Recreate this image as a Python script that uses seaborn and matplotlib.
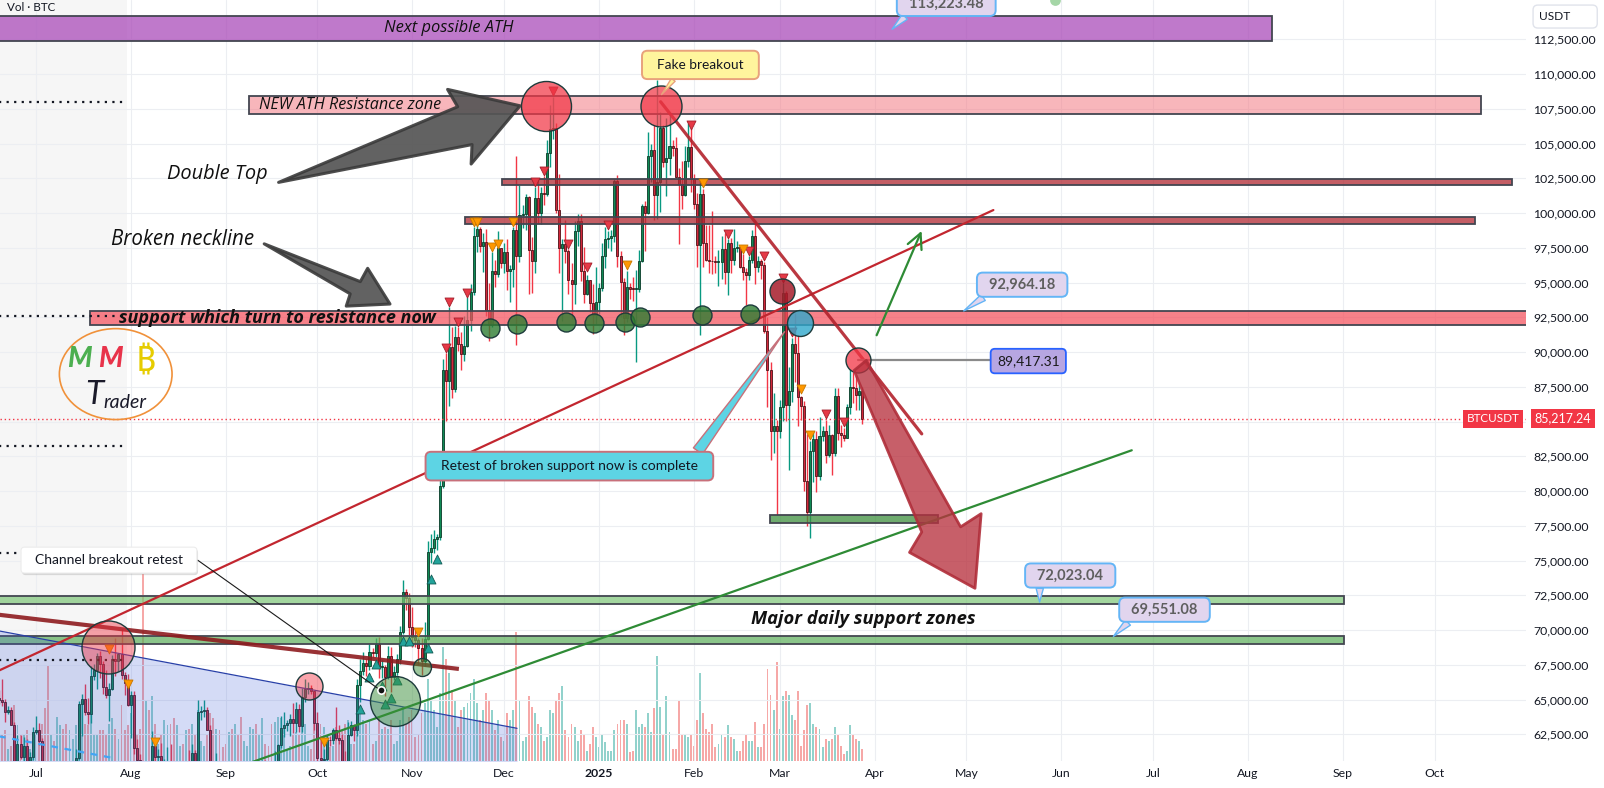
import numpy as np
import pandas as pd
import matplotlib
matplotlib.use("Agg")
import matplotlib.pyplot as plt
import matplotlib.dates as mdates
import matplotlib.patheffects as pe
from matplotlib.colors import to_rgba
from matplotlib.patches import Polygon, Ellipse, Rectangle
from matplotlib.transforms import blended_transform_factory
import seaborn as sns

# ------------------------------------------------------------------
# BTCUSDT daily candles from 2024-06-19 (prices in thousands of USDT,
# volume in thousands of BTC)
# ------------------------------------------------------------------
FIRST_DAY = "2024-06-19"
FIRST_OPEN = 65.15

close_jun = [64.96, 64.83, 64.10, 64.26, 63.18, 60.28, 61.80, 60.86, 61.68, 60.32, 60.89, 62.68]
high_jun = [65.73, 66.48, 65.07, 64.52, 64.48, 63.37, 62.43, 62.48, 62.29, 62.20, 61.20, 63.00]
low_jun = [64.69, 64.55, 63.38, 63.94, 63.18, 58.40, 60.24, 60.71, 60.58, 60.00, 60.32, 60.68]
vol_jun = [13, 16, 18, 7, 9, 33, 21, 15, 16, 18, 7, 10]

close_jul = [62.85, 62.03, 60.20, 57.06, 56.66, 58.24, 55.86, 56.70, 58.05, 57.72,
             57.34, 57.89, 59.20, 60.80, 64.70, 65.04, 64.09, 63.97, 66.68, 67.15,
             68.16, 67.53, 65.93, 65.37, 65.78, 67.90, 67.80, 68.25, 66.78, 66.19, 64.62]
high_jul = [63.86, 63.29, 62.27, 60.50, 57.55, 58.47, 58.32, 58.24, 58.30, 59.47,
            59.36, 58.53, 59.85, 61.42, 64.90, 65.39, 66.13, 65.12, 67.44, 67.60,
            68.37, 68.47, 67.80, 67.10, 66.17, 68.23, 69.40, 68.32, 70.08, 66.99, 66.83]
low_jul = [62.50, 61.76, 59.42, 56.77, 53.49, 56.01, 55.72, 54.26, 56.30, 57.16,
           57.05, 56.57, 57.76, 59.08, 60.63, 62.40, 63.87, 63.22, 63.30, 66.42,
           65.75, 66.57, 65.44, 65.11, 63.46, 65.72, 66.67, 67.07, 66.48, 65.30, 64.53]
vol_jul = [15, 13, 22, 31, 56, 16, 12, 26, 21, 19, 22, 18, 13, 21, 31, 33, 22, 21, 30, 15,
           16, 18, 18, 16, 22, 25, 19, 13, 33, 18, 21]

close_aug = [65.35, 61.50, 60.68, 58.12, 54.02, 56.04, 55.13, 61.70, 60.88, 60.94,
             58.71, 59.35, 60.60, 58.74, 57.56, 58.87, 59.48, 58.45, 59.49, 59.01,
             61.16, 60.38, 64.10, 64.18, 64.25, 62.83, 59.42, 59.03, 59.37, 59.12, 58.97]
high_aug = [65.59, 65.60, 62.20, 61.12, 58.29, 57.04, 57.73, 62.75, 61.76, 61.47,
            61.86, 60.70, 61.57, 61.80, 59.85, 59.82, 59.69, 60.28, 59.62, 61.40,
            61.83, 61.41, 64.96, 64.52, 65.00, 64.48, 63.20, 60.23, 61.19, 59.90, 59.46]
low_aug = [62.25, 61.10, 59.85, 57.12, 49.00, 53.97, 54.56, 54.73, 59.58, 60.26,
           58.29, 57.64, 58.42, 58.43, 56.08, 57.10, 58.79, 58.41, 57.86, 58.60,
           58.78, 59.77, 60.34, 63.55, 63.77, 62.80, 58.03, 57.86, 58.76, 57.70, 58.76]
vol_aug = [28, 27, 16, 19, 110, 36, 30, 38, 22, 10, 15, 24, 21, 22, 25, 21, 9, 10, 18, 19,
           22, 16, 30, 12, 9, 16, 28, 25, 19, 18, 8]

close_sep = [57.30, 59.13, 57.49, 57.97, 56.16, 53.96, 54.16, 54.87, 57.04, 57.65,
             57.34, 58.13, 60.57, 60.00, 59.18, 58.21, 60.31, 61.76, 62.95, 63.20,
             63.35, 63.58, 63.33, 64.30, 63.14, 65.18, 65.77, 65.86, 65.60, 63.30]
high_sep = [59.06, 59.43, 59.81, 58.52, 58.33, 56.98, 54.85, 55.30, 58.10, 58.04,
            57.99, 58.59, 60.67, 60.66, 60.39, 59.21, 61.32, 61.79, 63.85, 64.13,
            63.56, 64.00, 64.75, 64.82, 64.70, 65.84, 66.50, 66.26, 66.08, 65.62]
low_sep = [57.20, 57.13, 57.42, 55.61, 55.68, 52.55, 53.74, 53.65, 54.59, 56.39,
           55.55, 57.33, 57.63, 59.50, 58.70, 57.49, 57.61, 59.17, 61.55, 62.35,
           62.76, 62.36, 62.61, 62.70, 62.67, 62.67, 64.82, 65.42, 65.43, 62.85]
vol_sep = [10, 17, 19, 22, 16, 26, 12, 9, 20, 19, 22, 16, 25, 10, 9, 22, 23, 26, 25, 19,
           7, 9, 16, 17, 16, 20, 22, 9, 7, 22]

close_oct = [60.80, 60.65, 60.75, 62.09, 62.07, 62.81, 62.22, 62.13, 60.58, 60.27,
             62.45, 63.19, 62.85, 66.05, 67.04, 67.61, 67.40, 68.40, 68.36, 69.00,
             67.37, 67.38, 66.65, 68.16, 66.64, 67.01, 67.93, 69.90, 72.72, 72.34, 70.22]
high_oct = [64.13, 62.38, 61.47, 62.48, 62.37, 62.99, 64.48, 63.20, 62.54, 61.32,
            63.42, 63.48, 63.28, 66.50, 67.95, 68.42, 67.94, 68.97, 68.69, 69.40,
            69.50, 67.84, 67.46, 68.85, 68.77, 67.45, 68.31, 70.27, 73.62, 72.96, 72.70]
low_oct = [60.17, 59.99, 59.83, 60.46, 61.68, 61.83, 62.13, 61.84, 60.30, 58.90,
           60.08, 62.42, 62.03, 62.42, 64.80, 66.75, 66.67, 67.12, 68.08, 68.09,
           66.58, 66.57, 65.26, 66.50, 65.53, 66.45, 66.80, 67.56, 69.73, 71.44, 69.68]
vol_oct = [26, 22, 20, 16, 8, 9, 20, 17, 18, 22, 24, 10, 10, 28, 30, 24, 22, 24, 10, 12,
           26, 19, 20, 19, 24, 10, 12, 24, 32, 22, 26]

close_nov = [69.50, 69.30, 68.74, 67.80, 69.36, 75.64, 75.90, 76.54, 76.70, 80.37,
             88.70, 87.95, 90.38, 87.32, 91.06, 90.58, 89.85, 90.46, 92.31, 94.29,
             98.32, 98.89, 97.67, 97.90, 93.01, 91.97, 95.86, 95.64, 97.46, 96.41]
high_nov = [71.63, 70.00, 69.40, 69.45, 70.58, 76.40, 76.95, 77.20, 76.92, 81.50,
            89.53, 89.96, 93.27, 91.79, 91.85, 91.80, 91.45, 92.59, 94.00, 94.90,
            98.97, 99.59, 98.97, 98.55, 98.87, 94.97, 97.21, 96.65, 98.69, 97.50]
low_nov = [68.78, 68.80, 67.46, 66.80, 67.45, 69.30, 74.80, 75.56, 75.75, 76.49,
           80.22, 85.07, 86.13, 86.67, 87.10, 90.09, 88.72, 89.38, 90.37, 91.50,
           94.08, 97.17, 97.23, 95.73, 92.60, 90.79, 91.81, 94.72, 95.38, 96.05]
vol_nov = [30, 14, 16, 28, 34, 48, 36, 30, 20, 40, 67, 60, 52, 42, 36, 20, 30, 32, 34, 40,
           48, 34, 24, 30, 40, 36, 30, 18, 24, 14]

close_dec = [97.20, 95.84, 96.00, 98.77, 96.95, 99.87, 99.92, 101.17, 97.37, 96.59,
             101.12, 100.00, 101.42, 101.40, 104.30, 106.06, 106.14, 100.20, 97.46, 97.76,
             97.29, 95.19, 94.88, 98.68, 99.40, 95.80, 94.16, 95.16, 93.53, 92.64, 93.58]
high_dec = [97.84, 98.15, 96.30, 99.00, 104.09, 102.04, 100.55, 101.40, 101.20, 98.27,
            101.89, 102.54, 101.90, 102.65, 105.25, 107.79, 108.35, 106.47, 102.80, 98.14,
            99.54, 97.45, 96.42, 99.42, 99.96, 99.96, 97.54, 95.53, 95.18, 94.90, 96.15]
low_dec = [95.69, 94.50, 93.58, 94.66, 90.50, 96.50, 98.93, 98.77, 94.15, 94.26,
           95.66, 99.31, 99.21, 100.61, 101.23, 103.33, 105.32, 100.00, 95.70, 92.23,
           96.40, 94.20, 92.40, 93.45, 97.60, 95.14, 93.50, 94.12, 92.88, 91.32, 92.00]
vol_dec = [12, 28, 24, 30, 76, 36, 12, 14, 38, 32, 28, 22, 20, 12, 14, 30, 28, 36, 40, 44,
           18, 14, 22, 20, 12, 18, 16, 6, 10, 20, 14]

close_jan = [94.59, 96.89, 98.11, 98.24, 98.35, 102.28, 96.95, 95.04, 92.48, 94.70,
             94.57, 94.52, 94.54, 96.53, 100.50, 99.99, 104.08, 104.56, 101.33, 102.26,
             106.14, 103.65, 103.96, 104.82, 104.71, 102.57, 102.08, 101.33, 103.73, 104.73, 102.43]
high_jan = [95.00, 97.84, 98.98, 98.73, 98.81, 102.48, 102.72, 97.26, 95.35, 95.84,
            95.00, 95.40, 95.90, 97.37, 100.68, 100.87, 105.87, 104.99, 106.32, 109.59,
            107.24, 106.33, 106.85, 107.12, 105.29, 105.50, 103.22, 103.78, 104.80, 106.46, 106.09]
low_jan = [92.74, 94.40, 96.02, 97.51, 97.25, 97.90, 96.13, 92.50, 91.20, 92.20,
           93.80, 93.71, 89.26, 94.31, 96.48, 97.27, 99.95, 102.27, 99.50, 99.55,
           100.10, 103.33, 101.21, 102.75, 104.10, 102.52, 97.78, 100.27, 101.26, 103.30, 101.54]
vol_jan = [8, 16, 11, 6, 6, 18, 22, 24, 24, 22, 5, 6, 30, 20, 22, 20, 28, 17, 31, 62,
           32, 16, 38, 17, 7, 7, 35, 16, 16, 14, 16]

close_feb = [100.64, 97.69, 101.40, 97.87, 96.61, 96.55, 96.53, 96.48, 96.51, 97.43,
             95.78, 97.87, 96.62, 97.51, 97.57, 96.12, 95.77, 95.54, 96.64, 98.33,
             96.15, 96.58, 96.27, 91.55, 88.74, 84.35, 84.70, 84.35]
high_feb = [102.78, 101.46, 102.50, 101.73, 99.17, 99.12, 100.14, 96.88, 97.32, 98.35,
            98.56, 98.12, 98.20, 98.83, 97.97, 97.73, 97.05, 96.02, 96.90, 98.76,
            99.50, 96.94, 96.67, 96.50, 92.54, 89.29, 87.08, 85.12]
low_feb = [100.28, 96.15, 91.23, 96.15, 96.59, 95.68, 95.62, 95.69, 94.75, 95.26,
           94.87, 94.09, 95.66, 96.25, 97.23, 96.05, 95.21, 93.39, 95.16, 96.40,
           94.87, 95.77, 95.27, 91.35, 86.05, 82.26, 82.72, 78.26]
vol_feb = [9, 24, 52, 28, 19, 17, 22, 8, 10, 15, 14, 21, 14, 13, 6, 6, 12, 16, 12, 12,
           23, 8, 8, 22, 54, 39, 30, 58]

close_mar = [86.06, 94.27, 86.22, 87.22, 90.62, 89.96, 86.74, 86.15, 80.73, 78.53,
             82.86, 83.72, 81.07, 83.97, 84.34, 82.58, 84.03, 82.72, 86.85, 84.17,
             84.04, 83.83, 86.08, 87.50, 87.39, 86.90, 87.23, 85.21724]
high_mar = [86.56, 95.00, 94.42, 88.91, 90.99, 92.81, 91.22, 86.85, 86.47, 84.12,
            83.62, 84.36, 84.30, 85.31, 84.67, 85.12, 84.73, 84.08, 87.45, 87.44,
            84.78, 84.57, 86.25, 88.76, 88.54, 88.29, 87.79, 87.52]
low_mar = [83.82, 85.05, 85.08, 81.53, 86.38, 87.85, 84.67, 85.12, 80.00, 77.46,
           76.61, 80.66, 79.94, 80.80, 83.64, 82.02, 82.46, 81.13, 82.55, 83.65,
           83.17, 83.63, 83.80, 85.55, 86.31, 85.86, 85.84, 84.80]
vol_mar = [19, 38, 41, 39, 27, 24, 41, 9, 18, 33, 34, 22, 20, 19, 8, 13, 12, 13, 20, 16,
           9, 4, 6, 21, 16, 13, 12, 7]

# Indicator signal markers: (date, price in k)
SIG_RED = [("2024-11-12", 90.33), ("2024-11-13", 93.61), ("2024-11-16", 92.18),
           ("2024-11-19", 94.28), ("2024-12-11", 102.24), ("2024-12-14", 103.03),
           ("2024-12-17", 108.78), ("2024-12-22", 97.80), ("2024-12-28", 96.12),
           ("2025-01-04", 99.12), ("2025-01-31", 106.36), ("2025-02-12", 98.53),
           ("2025-02-19", 97.28), ("2025-02-24", 96.90), ("2025-03-02", 95.36),
           ("2025-03-05", 91.46), ("2025-03-16", 85.54), ("2025-03-22", 84.94)]
SIG_ORANGE = [("2024-07-25", 68.63), ("2024-07-31", 66.13), ("2024-08-09", 61.93),
              ("2024-10-03", 61.93), ("2024-11-03", 69.85), ("2024-11-21", 99.36),
              ("2024-11-22", 99.36), ("2024-11-27", 97.57), ("2024-11-29", 97.80),
              ("2024-12-04", 99.36), ("2025-01-10", 96.24), ("2025-02-04", 102.16),
              ("2025-02-17", 97.45), ("2025-03-08", 87.33), ("2025-03-11", 84.03)]
SIG_TEAL = [("2024-10-15", 64.31), ("2024-10-18", 66.65), ("2024-10-20", 67.60),
            ("2024-10-22", 66.00), ("2024-10-23", 64.70), ("2024-10-25", 65.10),
            ("2024-10-27", 66.40), ("2024-10-29", 69.20), ("2024-10-31", 69.20),
            ("2024-11-06", 68.75), ("2024-11-07", 73.70), ("2024-11-09", 75.10)]

# Key levels quoted on the chart
LVL_NEXT_ATH = 113223.48
LVL_RESIST = 92964.18
LVL_RETEST = 89417.31
LVL_SUPPORT_A = 72023.04
LVL_SUPPORT_B = 69551.08

PRICE_TICKS = np.arange(62500, 112501, 2500)
MONTH_TICKS = pd.date_range("2024-07-01", "2025-10-01", freq="MS")
MONTH_LABELS = ["Jul", "Aug", "Sep", "Oct", "Nov", "Dec", "2025", "Feb", "Mar",
                "Apr", "May", "Jun", "Jul", "Aug", "Sep", "Oct"]

# ------------------------------------------------------------------
closes = np.array(close_jun + close_jul + close_aug + close_sep + close_oct +
                  close_nov + close_dec + close_jan + close_feb + close_mar) * 1000
highs = np.array(high_jun + high_jul + high_aug + high_sep + high_oct +
                 high_nov + high_dec + high_jan + high_feb + high_mar) * 1000
lows = np.array(low_jun + low_jul + low_aug + low_sep + low_oct +
                low_nov + low_dec + low_jan + low_feb + low_mar) * 1000
vols = np.array(vol_jun + vol_jul + vol_aug + vol_sep + vol_oct +
                vol_nov + vol_dec + vol_jan + vol_feb + vol_mar, dtype=float)
opens = np.r_[FIRST_OPEN * 1000, closes[:-1]]
highs = np.maximum.reduce([highs, opens, closes])
lows = np.minimum.reduce([lows, opens, closes])
dates = pd.date_range(FIRST_DAY, periods=len(closes), freq="D")
xd = mdates.date2num(dates)
LAST = closes[-1]

BASE = mdates.date2num(pd.Timestamp("2025-01-01"))


def T(off):
    return BASE + np.asarray(off, dtype=float)


def K(p):
    return np.asarray(p, dtype=float) * 1000


def sig_xy(sig):
    return (mdates.date2num(pd.to_datetime([d for d, _ in sig])),
            np.array([p for _, p in sig]) * 1000)


# ------------------------------------------------------------------
sns.set_theme(style="white")
plt.rcParams["font.family"] = ["Lato", "DejaVu Sans"]
TXT = "#131722"

fig = plt.figure(figsize=(16.04, 7.88), dpi=100)
rect = [0.0, 0.0343, 0.9514, 0.9657]
ax_vol = fig.add_axes(rect)
ax = fig.add_axes(rect, sharex=ax_vol)
ax.patch.set_visible(False)

XMIN, XMAX = T(-195.7), T(302.8)
YMIN, YMAX = 60590, 115330
VOL_TOP = 447.6

# volume pane (behind price)
up = closes >= opens
ax_vol.axvspan(XMIN - 5, T(-154.2), color="#f6f6f6", zorder=0, lw=0)
vcol = np.where(up[:, None], np.array(to_rgba("#26a69a", 0.5))[None, :],
                np.array(to_rgba("#ef5350", 0.5))[None, :])
ax_vol.bar(xd, vols, width=0.62, color=vcol, zorder=2, lw=0)
ax_vol.set_ylim(0, VOL_TOP)
ax_vol.tick_params(left=False, labelleft=False, bottom=False, labelbottom=False,
                   right=False, labelright=False)
for s in ax_vol.spines.values():
    s.set_visible(False)

# candles
UP_W, DN_W = "#089981", "#f23645"
ax.vlines(xd[up], lows[up], highs[up], color=UP_W, lw=1.0, zorder=3)
ax.vlines(xd[~up], lows[~up], highs[~up], color=DN_W, lw=1.0, zorder=3)
body = np.maximum(np.abs(closes - opens), 60)
bottom = np.minimum(opens, closes)
ax.bar(xd[up], body[up], bottom=bottom[up], width=0.66, color="#0f8a55",
       edgecolor="#0b3b28", lw=0.6, zorder=3.2)
ax.bar(xd[~up], body[~up], bottom=bottom[~up], width=0.66, color="#d3283b",
       edgecolor="#4d1218", lw=0.6, zorder=3.2)

EDGE = "#434651"


def band(x0, x1, y0, y1, fc, alpha, z=4):
    ax.add_patch(Rectangle((T(x0), y0), T(x1) - T(x0), y1 - y0,
                           fc=to_rgba(fc, alpha), ec=EDGE, lw=1.3, zorder=z))


band(-200, 219.8, K(112.37), K(114.19), "#a540b5", 0.7)
band(-114.4, 288.1, K(107.10), K(108.45), "#f47a84", 0.55)
band(-31.8, 298.1, K(102.02), K(102.45), "#b02832", 0.75)
band(-43.8, 286.0, K(99.20), K(99.72), "#b02832", 0.75)
band(-166.3, 400, K(91.98), LVL_RESIST, "#f5505c", 0.72)
band(-200, 243.2, K(71.88), K(72.45), "#7cc576", 0.7)
band(-200, 243.2, K(68.99), LVL_SUPPORT_B, "#5aad58", 0.7)
band(55.8, 110.7, K(77.68), K(78.30), "#3d8f3d", 0.75)

# dotted levels on the left
ax.hlines(K([108.0, 92.57, 83.24, 75.52, 67.85]), XMIN - 5, T(-154.6),
          colors=TXT, linestyles=(0, (1, 2.4)), lw=1.6, zorder=4.5)

# descending channel
bx = T([-200, -26.8])
by = K([70.11, 62.94])
ax.fill_between(bx, by, 40000, color="#3f5fd8", alpha=0.22, lw=0, zorder=4.2)
ax.plot(bx, by, color="#2840a8", lw=0.9, zorder=4.3)
ax.plot(T([-200, -158.9]), K([62.53, 60.81]), color="#42a5f5", lw=1.6,
        ls=(0, (3, 3)), zorder=4.3)

# trend lines
ax.plot(T([-200, 128.8]), K([66.69, 100.22]), color="#c2262f", lw=1.6, zorder=4.6)
ax.plot(T([-200, -45.8]), K([71.21, 67.21]), color="#8e1b1f", lw=3.0, alpha=0.9,
        zorder=4.6, solid_capstyle="butt")
ax.plot(T([20.1, 105.4]), K([108.01, 84.12]), color="#b3222c", lw=2.3, alpha=0.9,
        zorder=4.6)
ax.plot(T([-120, 174.0]), K([59.99, 82.94]), color="#2e8b35", lw=1.6, zorder=4.6)
ax.annotate("", xy=(T(105.7), K(98.90)), xytext=(T(90.3), K(91.03)),
            arrowprops=dict(arrowstyle="->,head_length=0.9,head_width=0.45",
                            color="#2e8b35", lw=1.6), zorder=4.6)

# block arrows
GRAY1 = [(-104.7, 102.21), (-46.2, 107.65), (-49.5, 108.90), (-25.8, 107.72),
         (-41.8, 103.53), (-41.5, 104.93)]
GRAY2 = [(-109.4, 97.79), (-78.0, 95.07), (-75.6, 96.03), (-68.3, 93.46),
         (-82.6, 93.31), (-81.3, 94.19)]
RED_ARROW = [(83.3, 88.68), (87.3, 89.41), (118.1, 77.43), (124.8, 78.38),
             (122.8, 73.01), (101.4, 75.59), (105.4, 77.06)]
for pts in (GRAY1, GRAY2):
    ax.add_patch(Polygon([(T(a), K(b)) for a, b in pts], closed=True,
                         fc=to_rgba("#555555", 0.92), ec=to_rgba("#3a3a3a", 0.9),
                         lw=2.2, joinstyle="round", zorder=6))
ax.add_patch(Polygon([(T(a), K(b)) for a, b in RED_ARROW], closed=True,
                     fc=to_rgba("#b8323f", 0.78), ec=to_rgba("#b02e3a", 0.9),
                     lw=2.0, joinstyle="round", zorder=6))

# circles


def circles(offs, prices, diam_px, fc, alpha):
    sns.scatterplot(x=T(offs), y=K(prices), s=(diam_px * 0.72) ** 2,
                    color=to_rgba(fc, alpha), edgecolor="#1d3b3b", linewidth=1.0,
                    ax=ax, zorder=5.5, legend=False)


circles([-17.4], [107.72], 50, "#f23645", 0.72)
circles([20.2], [107.68], 41, "#f23645", 0.72)
circles([-160.3], [68.82], 53, "#f23645", 0.45)
circles([-94.9], [66.0], 27, "#f23645", 0.45)
circles([59.6], [94.37], 25, "#a61c2a", 0.85)
circles([65.6], [92.06], 26, "#2fa8cc", 0.8)
circles([84.6], [LVL_RETEST / 1000], 25, "#f23645", 0.75)
circles([-66.7], [64.91], 50, "#3a8f3a", 0.5)
circles([-57.7], [67.38], 18, "#3a8f3a", 0.5)
circles([-35.6, -26.9, -10.8, -1.6, 8.6, 13.5, 33.5, 49.4],
        [91.75, 92.0, 92.18, 92.13, 92.18, 92.53, 92.70, 92.77], 19, "#2e7d32", 0.8)
sns.scatterplot(x=[T(148.9)], y=[K(115.3)], s=60, color="#a5d6a7", linewidth=0,
                ax=ax, zorder=5.5, legend=False)

# signal markers
for sig, mk, fc, ec in ((SIG_RED, "v", "#e53946", "#a3202c"),
                        (SIG_ORANGE, "v", "#ff9800", "#c77700"),
                        (SIG_TEAL, "^", "#22a39a", "#135c55")):
    sx, sy = sig_xy(sig)
    sns.scatterplot(x=sx, y=sy, marker=mk, s=42, color=fc, edgecolor=ec,
                    linewidth=0.6, ax=ax, zorder=5.2, legend=False)

# texts on drawings
IT = dict(family=["Open Sans", "Lato"], style="italic", color="#111111", zorder=7)
ax.text(T(-49.2), K(113.28), "Next possible ATH", fontsize=11.9, ha="center", va="center", **IT)
ax.text(T(-111.1), K(107.80), "NEW ATH Resistance zone", fontsize=11.6, ha="left", va="center", **IT)
ax.text(T(-124.8), K(102.79), "Double Top", fontsize=14.4, ha="center", va="center", **IT)
ax.text(T(-136.2), K(98.09), "Broken neckline", fontsize=14.8, ha="center", va="center", **IT)
ax.text(T(-156.9), K(92.42), "support which turn to resistance now", fontsize=13.0,
        fontweight="bold", ha="left", va="center", **IT)
ax.text(T(86.2), K(70.80), "Major daily support zones", fontsize=13.2,
        fontweight="bold", ha="center", va="center", **IT)

# logo
ax.add_patch(Ellipse((T(-157.9), K(88.42)), 36.8, 6540, fill=False,
                     ec="#f0913a", lw=1.2, zorder=6))
ax.text(T(-169.8), K(89.48), "M", color="#4caf50", fontsize=20, fontweight="black",
        style="italic", ha="center", va="center", zorder=7)
ax.text(T(-159.8), K(89.48), "M", color="#e8334a", fontsize=20, fontweight="black",
        style="italic", ha="center", va="center", zorder=7)
ax.text(T(-148.3), K(89.29), "\u20bf", color="#e6cc00", fontsize=25, fontweight="bold",
        family=["DejaVu Sans", "Noto Sans"], ha="center", va="center", zorder=7)
ax.text(T(-165.0), K(86.95), "T", color="#1a1a2a", fontsize=24, style="italic",
        ha="center", va="center", zorder=7)
ax.text(T(-161.9), K(86.40), "rader", color="#1a1a2a", fontsize=14, style="italic",
        ha="left", va="center", zorder=7)

# callouts


def callout(text, box_at, point_at, fc, ec, tc, fs, relpos, tail, weight="normal",
            pad=0.35, z=9):
    ax.annotate(text, xy=point_at, xytext=box_at, ha="center", va="center",
                fontsize=fs, color=tc, fontweight=weight, zorder=z,
                annotation_clip=False,
                bbox=dict(boxstyle=f"round,pad={pad},rounding_size=0.4", fc=fc,
                          ec=ec, lw=1.4),
                arrowprops=dict(arrowstyle=f"wedge,tail_width={tail},shrink_factor=0.5",
                                fc=fc, ec=ec, lw=1.0, relpos=relpos,
                                shrinkA=0, shrinkB=0))


LAV, LBLUE, GRAYTXT = "#e1d5ee", "#64b5f6", "#5f5f5f"
callout(f"  {LVL_NEXT_ATH:,.2f}  ", (T(113.4), K(115.05)), (T(95.7), LVL_NEXT_ATH),
        LAV, LBLUE, GRAYTXT, 10.5, (0.1, 0.0), 0.5, weight="bold")
callout(f"  {LVL_RESIST:,.2f}  ", (T(138.2), K(94.85)), (T(119.1), LVL_RESIST),
        LAV, LBLUE, GRAYTXT, 10.5, (0.12, 0.0), 0.5, weight="bold")
callout(f"  {LVL_SUPPORT_A:,.2f}  ", (T(153.9), K(73.93)), (T(143.9), LVL_SUPPORT_A),
        LAV, LBLUE, GRAYTXT, 10.5, (0.12, 0.0), 0.5, weight="bold")
callout(f"  {LVL_SUPPORT_B:,.2f}  ", (T(184.7), K(71.47)), (T(168.0), LVL_SUPPORT_B),
        LAV, LBLUE, GRAYTXT, 10.5, (0.12, 0.0), 0.5, weight="bold")
callout("  Fake breakout  ", (T(33.1), K(110.66)), (T(20.4), K(108.53)),
        "#fff59d", "#e8a27c", TXT, 9.8, (0.3, 0.0), 0.35, pad=0.6)
callout("  Retest of broken support now is complete  ", (T(-9.7), K(81.80)),
        (T(60.6), K(91.47)), "#5dd4e4", "#c8707a", TXT, 10, (0.95, 1.0), 0.8, pad=0.6)

# gray connector and price tag at the retest circle
ax.plot(T([84.6, 128.8]), [LVL_RETEST, LVL_RETEST], color="#8a8a8a", lw=1.6, zorder=5.4)
ax.text(T(140.2), LVL_RETEST - 60, f"{LVL_RETEST:,.2f}", ha="center", va="center",
        fontsize=10, color="#1a1a1a", zorder=9,
        bbox=dict(boxstyle="round,pad=0.45,rounding_size=0.3", fc="#b7a6e2",
                  ec="#2962ff", lw=1.3))

# channel breakout label
ch = ax.text(T(-160.1), K(75.04), "  Channel breakout retest  ", ha="center",
             va="center", fontsize=10, color=TXT, zorder=9,
             bbox=dict(boxstyle="round,pad=0.5,rounding_size=0.25", fc="white",
                       ec="#ececec", lw=0.8))
ch.get_bbox_patch().set_path_effects([pe.withSimplePatchShadow(
    offset=(0.8, -1.5), shadow_rgbFace="#9e9e9e", alpha=0.35)])
ax.plot(T([-131.1, -71.3]), K([75.03, 65.66]), color="#1a1a1a", lw=0.8, zorder=8)
sns.scatterplot(x=[T(-71.3)], y=[K(65.66)], s=28, color="#111111",
                edgecolor="white", linewidth=1.2, ax=ax, zorder=8.5, legend=False)

# last price line and tags
ax.axhline(LAST, color="#f23645", lw=1.0, ls=(0, (1, 2)), zorder=4.8)
blend = blended_transform_factory(ax.transAxes, ax.transData)
ax.text(0.9955, LAST, "BTCUSDT", transform=blend, ha="right", va="center",
        color="white", fontsize=8.4, zorder=12, clip_on=False,
        bbox=dict(boxstyle="square,pad=0.3", fc="#f23645", ec="none"))
ax.text(1.0055, LAST, f"{LAST:,.2f}", transform=blend, ha="left", va="center",
        color="white", fontsize=9.0, zorder=12, clip_on=False,
        bbox=dict(boxstyle="square,pad=0.3", fc="#f23645", ec="none"))

ax.text(0.0047, 0.9895, "Vol \u00b7 BTC", transform=ax.transAxes, ha="left",
        va="center", fontsize=8.4, color=TXT, zorder=12)
fig.text(0.9595, 0.979, "USDT       ", ha="left", va="center", fontsize=8.6,
         color=TXT, bbox=dict(boxstyle="round,pad=0.5,rounding_size=0.4",
                              fc="white", ec="#e0e3eb", lw=1.0))

# axes; the scale label under the last-price tag stays hidden
ax.set_xlim(XMIN, XMAX)
ax.set_ylim(YMIN, YMAX)
ax.yaxis.tick_right()
ax.set_yticks(PRICE_TICKS)
ax.set_yticklabels(["" if abs(v - LAST) < 1500 else f"{v:,.2f}" for v in PRICE_TICKS])
ax.set_xticks(mdates.date2num(MONTH_TICKS))
ax.set_xticklabels(MONTH_LABELS)
ax.tick_params(axis="y", length=0, pad=5, labelsize=8.8, labelcolor=TXT)
ax.tick_params(axis="x", length=0, pad=5, labelsize=8.8, labelcolor=TXT)
for lab in ax.get_xticklabels():
    if lab.get_text() == "2025":
        lab.set_fontweight("bold")
ax.grid(True, color="#eceef2", lw=0.8, zorder=0)
ax.set_axisbelow(True)
ax.set_xlabel("")
ax.set_ylabel("")
for s in ax.spines.values():
    s.set_visible(False)

fig.savefig("out.png", dpi=100)
